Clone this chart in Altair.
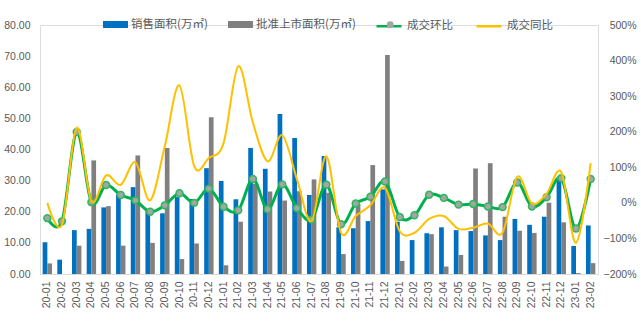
import altair as alt
import pandas as pd

months = ["20-01","20-02","20-03","20-04","20-05","20-06","20-07","20-08","20-09","20-10","20-11","20-12",
          "21-01","21-02","21-03","21-04","21-05","21-06","21-07","21-08","21-09","21-10","21-11","21-12",
          "22-01","22-02","22-03","22-04","22-05","22-06","22-07","22-08","22-09","22-10","22-11","22-12",
          "23-01","23-02"]

# 销售面积 (万㎡)
sales = [10.2, 4.6, 14.1, 14.5, 21.4, 25.6, 27.9, 20.4, 19.5, 24.7, 24.1, 34.0,
         29.9, 24.0, 40.5, 33.8, 51.4, 43.7, 25.4, 37.9, 15.0, 14.7, 17.0, 27.2,
         16.8, 10.9, 13.1, 15.0, 14.1, 13.8, 12.4, 10.9, 17.7, 15.8, 18.4, 30.8,
         9.0, 15.6]
# 批准上市面积 (万㎡)
approved = [3.4, 0.0, 9.1, 36.5, 21.8, 9.1, 38.1, 10.0, 40.5, 4.8, 9.8, 50.4,
            2.8, 16.8, 29.0, 26.5, 23.6, 26.6, 30.4, 26.1, 6.4, 22.5, 35.0, 70.4,
            4.2, 0.0, 12.8, 2.4, 6.1, 33.9, 35.6, 18.4, 13.9, 13.2, 22.9, 16.6,
            0.3, 3.5]
# 成交环比 (%)
mom = [-43, -52, 199, 2, 50, 22, 7, -25, -7, 27, 0, 40,
       -11, -21, 67, -18, 52, -15, -47, 51, -60, -2, 17, 60,
       -40, -35, 23, 14, -5, -3, -10, -12, 57, -10, 16, 69,
       -72, 67]
# 成交同比 (%)
yoy = [0, -61, 211, 5, 77, 51, 114, 7, 159, 330, 103, 126,
       168, 384, 225, 117, 190, 66, -51, 131, -84, -37, -7, 42,
       -80, -84, -45, -37, -73, -70, -58, -84, 73, -2, 26, 86,
       -112, 112]

bar_series = ["销售面积(万㎡)", "批准上市面积(万㎡)"]
line_series = ["成交环比", "成交同比"]

bar_df = pd.DataFrame({
    "month": months * 2,
    "series": [bar_series[0]] * len(months) + [bar_series[1]] * len(months),
    "value": sales + approved,
})
line_df = pd.DataFrame({
    "month": months * 2,
    "series": [line_series[0]] * len(months) + [line_series[1]] * len(months),
    "value": [v / 100 for v in mom + yoy],
})
line_df["marker"] = line_df["series"]

LABEL = "#595959"
NUMFONT = "Liberation Sans"
CJK = "Noto Sans CJK SC"
MARK_FILL = "#A5A5A5"
MARK_STROKE = "#2EB85C"

x_enc = alt.X("month:N", sort=months,
              scale=alt.Scale(paddingInner=0.36, paddingOuter=0.18),
              axis=alt.Axis(title=None, labelAngle=-90, labelFont=NUMFONT, labelFontSize=10.5,
                            labelColor=LABEL, labelPadding=7, ticks=False, domain=True,
                            domainColor="#D9D9D9", domainWidth=1, grid=False))

bars = alt.Chart(bar_df).mark_bar().encode(
    x=x_enc,
    xOffset=alt.XOffset("series:N", sort=bar_series,
                        scale=alt.Scale(domain=bar_series, paddingInner=0, paddingOuter=0)),
    y=alt.Y("value:Q", scale=alt.Scale(domain=[0, 80], nice=False),
            axis=alt.Axis(title=None, orient="left", values=list(range(0, 81, 10)), format=".2f",
                          labelFont=NUMFONT, labelFontSize=10.5, labelColor=LABEL, labelPadding=10,
                          ticks=False, domain=False, grid=False)),
    fill=alt.Fill("series:N", sort=bar_series,
                  scale=alt.Scale(domain=bar_series, range=["#0070C0", "#808080"]),
                  legend=alt.Legend(title=None, orient="none", legendX=63, legendY=-13,
                                    direction="horizontal", symbolType="M-1,-0.28H1V0.28H-1Z",
                                    symbolSize=625, symbolStrokeWidth=0, labelFont=CJK,
                                    labelFontSize=11.5, labelColor=LABEL, labelOffset=3,
                                    columnPadding=20)),
)

y_right = alt.Y("value:Q", scale=alt.Scale(domain=[-2, 5], nice=False),
                axis=alt.Axis(title=None, orient="right", values=[-2, -1, 0, 1, 2, 3, 4, 5],
                              format=".0%", labelFont=NUMFONT, labelFontSize=10.5,
                              labelColor=LABEL, labelAlign="right", labelPadding=38,
                              ticks=False, domain=False, grid=False))

stroke_enc = alt.Stroke("series:N", sort=line_series,
                        scale=alt.Scale(domain=line_series, range=["#00B050", "#FFC000"]),
                        legend=alt.Legend(title=None, orient="none", legendX=335, legendY=-13,
                                          direction="horizontal", symbolType="stroke",
                                          symbolSize=625, symbolStrokeWidth=2.5, labelFont=CJK,
                                          labelFontSize=11.5, labelColor=LABEL, labelOffset=4,
                                          columnPadding=18))

base_line = alt.Chart(line_df)

green_line = base_line.transform_filter(alt.datum.series == "成交环比").mark_line(
    interpolate="cardinal", strokeWidth=3).encode(x=x_enc, y=y_right, stroke=stroke_enc)

green_pts = base_line.transform_filter(alt.datum.series == "成交环比").mark_point(
    filled=False, size=48, fill=MARK_FILL, fillOpacity=1, stroke=MARK_STROKE,
    strokeWidth=1.5, opacity=1).encode(
    x=x_enc, y=y_right,
    shape=alt.Shape("marker:N", scale=alt.Scale(domain=["成交环比"], range=["circle"]),
                    legend=alt.Legend(title=None, orient="none", legendX=344.5, legendY=-6,
                                      direction="horizontal", symbolSize=48,
                                      symbolFillColor=MARK_FILL, symbolStrokeColor=MARK_STROKE,
                                      symbolStrokeWidth=1.5, symbolOpacity=1,
                                      labelExpr="''", labelFont=CJK, labelFontSize=11.5)))

yellow_line = base_line.transform_filter(alt.datum.series == "成交同比").mark_line(
    interpolate="cardinal", strokeWidth=2).encode(x=x_enc, y=y_right, stroke=stroke_enc)

lines = alt.layer(green_line, green_pts, yellow_line)

chart = alt.layer(bars, lines).resolve_scale(y="independent").properties(
    width=558, height=249,
    autosize=alt.AutoSizeParams(type="none"),
    padding={"left": 40, "top": 25, "right": 43, "bottom": 49},
).configure_view(stroke=None).configure(background="white")

chart.save("out.html", embed_options={"renderer": "svg", "actions": False})
